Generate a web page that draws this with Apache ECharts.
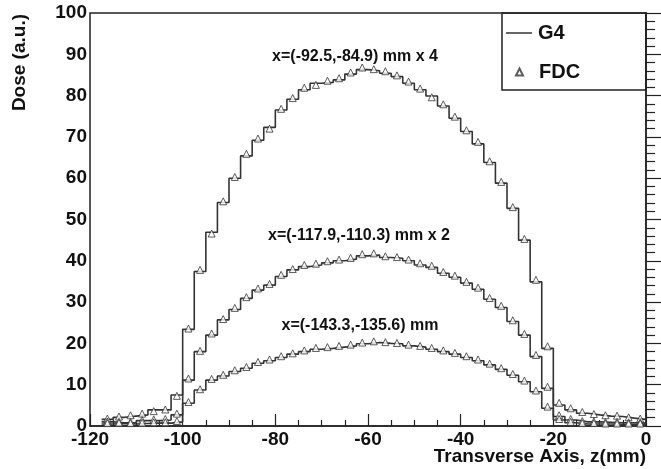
<!DOCTYPE html>
<html>
<head>
<meta charset="utf-8">
<script src="https://cdn.jsdelivr.net/npm/echarts@6/dist/echarts.min.js"></script>
<style>
html,body{margin:0;padding:0;background:#fff;}
#chart{width:661px;height:469px;}
</style>
</head>
<body>
<div id="chart"></div>
<script>
// Bin centers along z (mm)
var zCenters = [-116.25, -113.75, -111.25, -108.75, -106.25, -103.75, -101.25,
  -98.75, -96.25, -93.75, -91.25, -88.75, -86.25, -83.75, -81.25, -78.75, -76.25, -73.75, -71.25, -68.75, -66.25, -63.75, -61.25,
  -58.75, -56.25, -53.75, -51.25, -48.75, -46.25, -43.75, -41.25, -38.75, -36.25, -33.75, -31.25, -28.75, -26.25, -23.75, -21.25,
  -18.75, -16.25, -13.75, -11.25, -8.75, -6.25, -3.75, -1.25];

// G4 histograms
var g4x4 = [1.6, 2.1, 2.4, 2.7, 3.9, 3.9, 7.5,
  23.4, 37.4, 46.9, 54.1, 60.0, 65.4, 69.2, 72.3, 76.5, 79.1, 81.4, 83.0, 83.2, 83.8, 85.2, 86.3,
  86.0, 85.4, 84.6, 83.0, 81.4, 79.9, 77.5, 74.5, 71.3, 68.3, 63.8, 58.8, 52.7, 45.0, 34.9, 18.8,
  5.1, 3.9, 3.1, 2.7, 2.4, 2.3, 1.9, 1.6];
var g4x2 = [1.0, 0.8, 0.8, 1.3, 1.3, 1.45, 2.7,
  11.1, 18.0, 22.0, 25.7, 28.2, 30.9, 32.9, 34.1, 36.2, 37.8, 38.6, 39.0, 39.5, 40.0, 40.4, 41.2,
  41.4, 40.8, 40.6, 40.0, 39.0, 38.4, 37.0, 36.0, 34.6, 33.1, 30.7, 28.7, 25.3, 22.0, 16.8, 9.1,
  2.3, 1.45, 1.0, 1.0, 0.9, 0.8, 0.8, 0.7];
var g4x1 = [0.5, 0.6, 0.5, 0.6, 0.7, 0.7, 1.0,
  5.5, 8.7, 11.1, 12.1, 13.2, 14.0, 15.2, 15.8, 16.6, 17.4, 18.0, 18.6, 18.8, 19.1, 19.4, 19.9,
  20.2, 20.0, 19.9, 19.4, 19.1, 18.6, 18.0, 17.4, 16.6, 15.8, 14.8, 13.7, 12.3, 10.7, 8.3, 4.3,
  1.45, 0.8, 0.5, 0.5, 0.5, 0.4, 0.4, 0.4];

// FDC points
var fdcx4 = [1.8, 2.3, 2.6, 3.0, 3.6, 4.0, 7.3,
  23.6, 37.8, 46.6, 54.4, 60.3, 65.9, 69.6, 72.0, 76.8, 79.4, 81.9, 82.6, 83.6, 84.2, 85.6, 86.8,
  86.4, 85.9, 84.9, 83.4, 81.7, 79.6, 77.9, 74.9, 71.6, 68.8, 64.1, 59.1, 53.0, 45.3, 35.4, 19.3,
  5.6, 4.3, 3.4, 2.9, 2.6, 2.5, 2.1, 1.8];
var fdcx2 = [1.1, 1.0, 1.0, 1.4, 1.6, 1.7, 3.0,
  11.5, 18.2, 22.4, 25.9, 28.6, 31.2, 33.3, 34.4, 36.6, 38.0, 39.0, 39.3, 39.9, 40.3, 40.7, 41.6,
  41.8, 41.1, 40.9, 40.3, 39.4, 38.8, 37.3, 36.4, 34.9, 33.5, 31.0, 29.1, 25.6, 22.3, 17.2, 9.5,
  2.6, 1.7, 1.2, 1.1, 1.0, 1.0, 0.9, 0.9];
var fdcx1 = [0.7, 0.8, 0.7, 0.8, 0.9, 0.9, 1.2,
  5.8, 8.9, 11.4, 12.4, 13.5, 14.3, 15.5, 16.1, 16.9, 17.6, 18.3, 18.9, 19.1, 19.4, 19.7, 20.2,
  20.5, 20.3, 20.1, 19.7, 19.4, 18.9, 18.3, 17.7, 16.9, 16.1, 15.1, 14.0, 12.6, 11.0, 8.6, 4.7,
  1.7, 1.0, 0.7, 0.7, 0.6, 0.6, 0.6, 0.6];

var annotations = ['x=(-92.5,-84.9) mm x 4', 'x=(-117.9,-110.3) mm x 2', 'x=(-143.3,-135.6) mm'];
var xTitle = 'Transverse Axis, z(mm)';
var yTitle = 'Dose (a.u.)';

var FONT = '"Liberation Sans", Arial, Helvetica, sans-serif';
var INK = '#222';
var LINE = '#333';

function histData(vals) {
  var half = (zCenters[1] - zCenters[0]) / 2;
  var d = [];
  for (var i = 0; i < vals.length; i++) d.push([zCenters[i] - half, vals[i]]);
  d.push([zCenters[vals.length - 1] + half, vals[vals.length - 1]]);
  return d;
}
function ptData(vals) {
  return vals.map(function (v, i) { return [zCenters[i], v]; });
}
function lineSeries(vals) {
  return { name: 'G4', type: 'line', step: 'end', data: histData(vals), symbol: 'none',
    lineStyle: { color: LINE, width: 1.6 }, itemStyle: { color: LINE }, z: 2, animation: false };
}
function ptSeries(vals) {
  return { name: 'FDC', type: 'scatter', data: ptData(vals), symbol: 'triangle', symbolSize: 7,
    itemStyle: { color: '#fff', borderColor: '#333', borderWidth: 1 }, z: 3, animation: false };
}

var chart = echarts.init(document.getElementById('chart'));
chart.setOption({
  animation: false,
  backgroundColor: '#fff',
  grid: { left: 90, top: 13, right: 15, bottom: 43, show: true, borderColor: INK, borderWidth: 1.5 },
  xAxis: {
    type: 'value', min: -120, max: 0, interval: 20,
    axisLine: { show: true, lineStyle: { color: INK, width: 1.5 } },
    axisTick: { show: true, inside: true, length: 12, lineStyle: { color: INK, width: 1.2 } },
    minorTick: { show: true, splitNumber: 4, length: 6, lineStyle: { color: INK, width: 1.2 } },
    splitLine: { show: false },
    axisLabel: { color: '#111', fontFamily: FONT, fontWeight: 'bold', fontSize: 19, margin: 4 }
  },
  yAxis: {
    type: 'value', min: 0, max: 100, interval: 10,
    axisLine: { show: true, lineStyle: { color: INK, width: 1.5 } },
    axisTick: { show: true, inside: true, length: 17, lineStyle: { color: INK, width: 1.2 } },
    minorTick: { show: true, splitNumber: 5, length: 9, lineStyle: { color: INK, width: 1.2 } },
    splitLine: { show: false },
    axisLabel: { color: '#111', fontFamily: FONT, fontWeight: 'bold', fontSize: 19, margin: 3 }
  },
  legend: [
    { data: [{ name: 'G4', icon: 'rect', itemStyle: { color: LINE } }], left: 506, top: 23, itemWidth: 26, itemHeight: 1.5, itemGap: 0, padding: 0,
      textStyle: { color: '#111', fontFamily: FONT, fontWeight: 'bold', fontSize: 20, padding: [0, 0, 0, 1] } },
    { data: [{ name: 'FDC', icon: 'triangle' }], left: 515, top: 62, itemWidth: 7, itemHeight: 7, itemGap: 0, padding: 0,
      textStyle: { color: '#111', fontFamily: FONT, fontWeight: 'bold', fontSize: 20, padding: [0, 0, 0, 11] } }
  ],
  graphic: [
    { type: 'rect', shape: { x: 502, y: 13, width: 144, height: 77 }, style: { fill: 'none', stroke: INK, lineWidth: 1.5 }, z: 10 },
    { type: 'text', x: 355, y: 57, style: { text: annotations[0], font: 'bold 16px ' + FONT, fill: '#111', align: 'center', verticalAlign: 'middle', textAlign: 'center', textVerticalAlign: 'middle' } },
    { type: 'text', x: 359, y: 236, style: { text: annotations[1], font: 'bold 16px ' + FONT, fill: '#111', align: 'center', verticalAlign: 'middle', textAlign: 'center', textVerticalAlign: 'middle' } },
    { type: 'text', x: 360, y: 326, style: { text: annotations[2], font: 'bold 16px ' + FONT, fill: '#111', align: 'center', verticalAlign: 'middle', textAlign: 'center', textVerticalAlign: 'middle' } },
    { type: 'text', x: 646, y: 457, style: { text: xTitle, font: 'bold 19px ' + FONT, fill: '#111', align: 'right', verticalAlign: 'middle', textAlign: 'right', textVerticalAlign: 'middle' } },
    { type: 'text', x: 20, y: 14, rotation: Math.PI / 2, style: { text: yTitle, font: 'bold 19px ' + FONT, fill: '#111', align: 'right', verticalAlign: 'middle', textAlign: 'right', textVerticalAlign: 'middle' } }
  ],
  series: [
    lineSeries(g4x4), lineSeries(g4x2), lineSeries(g4x1),
    ptSeries(fdcx4), ptSeries(fdcx2), ptSeries(fdcx1)
  ]
});
</script>
</body>
</html>
